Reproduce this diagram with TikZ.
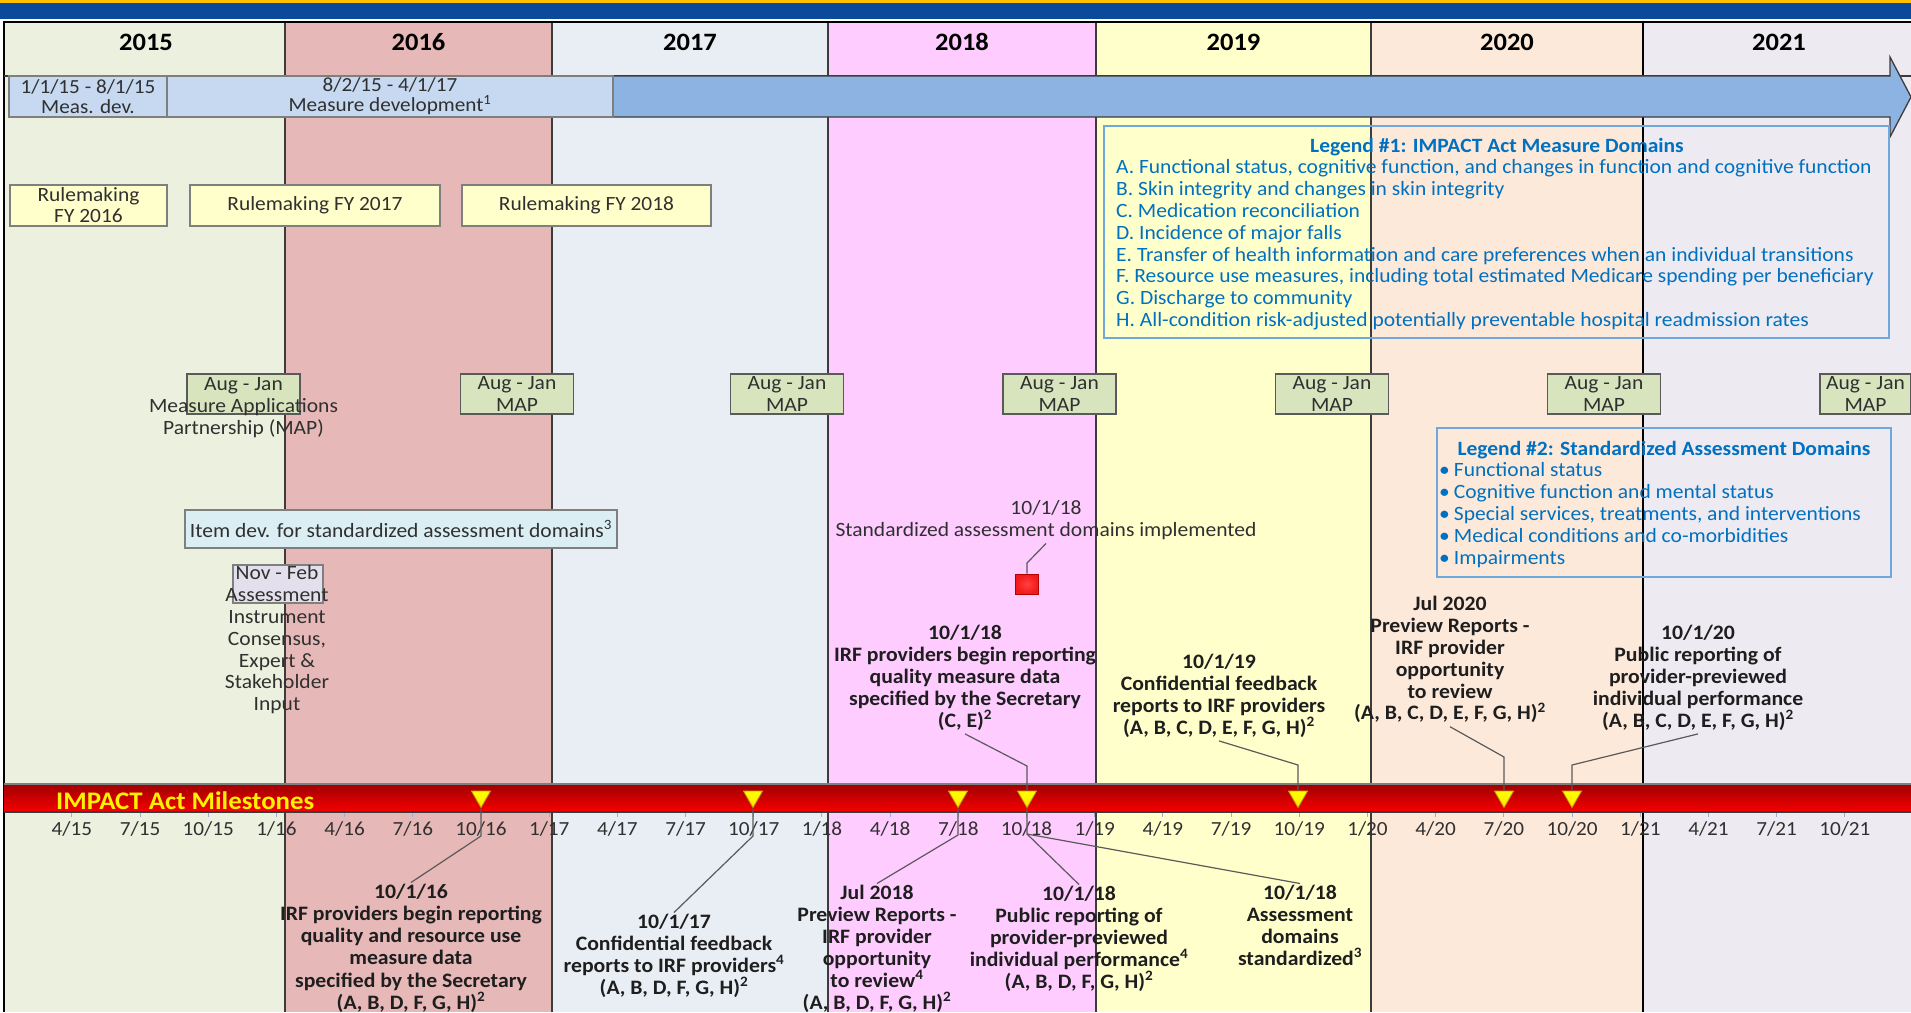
\documentclass[tikz,border=0pt]{standalone}
\usepackage{fontspec}
\setmainfont{Carlito}[FakeStretch=1.06]
\usetikzlibrary{shapes.geometric}

\definecolor{goldline}{HTML}{FFC000}
\definecolor{bandblue}{HTML}{0B4A9B}
\definecolor{yr15}{HTML}{EBF1DE}
\definecolor{yr16}{HTML}{E6B8B7}
\definecolor{yr17}{HTML}{E9EDF4}
\definecolor{yr18}{HTML}{FFCCFF}
\definecolor{yr19}{HTML}{FFFFCC}
\definecolor{yr20}{HTML}{FDE9D9}
\definecolor{yr21}{HTML}{EDEAF1}
\definecolor{gridgrey}{HTML}{3C3C3C}
\definecolor{boxgrey}{HTML}{7F7F7F}
\definecolor{mapgrey}{HTML}{5A5A5A}
\definecolor{mdfill}{HTML}{C6D9F1}
\definecolor{arrowfill}{HTML}{8DB3E2}
\definecolor{rulefill}{HTML}{FFFFCC}
\definecolor{mapfill}{HTML}{D7E4BD}
\definecolor{itemfill}{HTML}{DBEEF3}
\definecolor{nfbfill}{HTML}{E4DFEC}
\definecolor{legblue}{HTML}{0070C0}
\definecolor{legline}{HTML}{6FA8DC}
\definecolor{bartop}{HTML}{A00000}
\definecolor{barbot}{HTML}{F80000}
\definecolor{tickblue}{HTML}{95B3D7}
\definecolor{txtdark}{HTML}{1E1E1E}
\definecolor{txtgrey}{HTML}{303030}
\definecolor{conngrey}{HTML}{5A5A5A}
\definecolor{triyellow}{HTML}{FFFF00}
\definecolor{triedge}{HTML}{BFA600}
\definecolor{sqred}{HTML}{F21818}

\newcommand\ftyear{\fontsize{25}{28}\selectfont\bfseries}
\newcommand\ftleg{\fontsize{20.3}{21.8}\selectfont}
\newcommand\ftms{\fontsize{20.5}{22}\selectfont\bfseries}
\newcommand\fttick{\fontsize{20}{22}\selectfont}
\newcommand\ftmile{\fontsize{25.3}{28}\selectfont\bfseries}

\begin{document}
\begin{tikzpicture}[x=1pt,y=-1pt,
  yearlab/.style={font=\ftyear, text=black, inner sep=0pt, yshift=-1.5pt},
  box/.style={draw=boxgrey, line width=1.3pt, inner sep=0pt, align=center, text=txtgrey},
  mdbox/.style={box, fill=mdfill, font=\fontsize{20}{20}\selectfont},
  rulebox/.style={box, fill=rulefill, font=\fontsize{20.2}{21}\selectfont, minimum height=41pt},
  mapbox/.style={box, draw=mapgrey, fill=mapfill, font=\fontsize{20.3}{22}\selectfont, minimum width=113pt, minimum height=40pt},
  plaintext/.style={inner sep=0pt, align=center, text=txtgrey, font=\fontsize{20.3}{21.8}\selectfont, yshift=-1.5pt},
  msblock/.style={inner sep=0pt, align=center, text=txtdark, font=\ftms, yshift=-1.5pt},
  legbox/.style={draw=legline, line width=2pt, inner sep=0pt},
  legtitle/.style={inner sep=0pt, text=legblue, font=\ftleg\bfseries, yshift=-1.5pt},
  legitems/.style={inner sep=0pt, align=left, text=legblue, font=\ftleg, yshift=-1.5pt},
  tri/.style={regular polygon, regular polygon sides=3, shape border rotate=180,
              minimum size=22pt, inner sep=0pt, draw=triedge, line width=0.8pt,
              top color=triyellow, bottom color=triyellow!80!orange},
  conn/.style={draw=conngrey, line width=1.2pt},
  tick/.style={draw=tickblue, line width=1pt},
  ticklab/.style={inner sep=0pt, text=txtgrey, font=\fttick},
  gridline/.style={draw=gridgrey, line width=1.5pt}]

\useasboundingbox (0,0) rectangle (1911,1012);
\fill[white] (0,0) rectangle (1911,1012);

% title band
\fill[goldline] (0,0) rectangle (1911,3);
\fill[bandblue] (0,3) rectangle (1911,19);

% year columns
\fill[yr15] (4,22) rectangle (285,1012);
\fill[yr16] (285,22) rectangle (552,1012);
\fill[yr17] (552,22) rectangle (828,1012);
\fill[yr18] (828,22) rectangle (1096,1012);
\fill[yr19] (1096,22) rectangle (1371,1012);
\fill[yr20] (1371,22) rectangle (1643,1012);
\fill[yr21] (1643,22) rectangle (1911,1012);

\draw[gridline] (285,22) -- (285,1012);
\draw[gridline] (552,22) -- (552,1012);
\draw[gridline] (828,22) -- (828,1012);
\draw[gridline] (1096,22) -- (1096,1012);
\draw[gridline] (1371,22) -- (1371,1012);
\draw[black, line width=2.5pt] (1643,22) -- (1643,1012);
\draw[black, line width=1.5pt] (4,1012) -- (4,22) -- (1911,22);
\draw[gridline] (4,76) -- (1911,76);

% year headings
\node[yearlab] (y15) at (146,40.5) {2015};
\node[yearlab] (y16) at (418.5,40.5) {2016};
\node[yearlab] (y17) at (690,40.5) {2017};
\node[yearlab] (y18) at (962,40.5) {2018};
\node[yearlab] (y19) at (1233.5,40.5) {2019};
\node[yearlab] (y20) at (1507,40.5) {2020};
\node[yearlab] (y21) at (1779,40.5) {2021};

% measure development arrow and boxes
\draw[fill=arrowfill, draw=gridgrey, line width=1.3pt]
  (600,76) -- (1890,76) -- (1890,57) -- (1911,97) -- (1890,137) -- (1890,117) -- (600,117) -- cycle;
\node[mdbox, minimum width=158pt, minimum height=41pt] (md1) at (88,96.5) {1/1/15 - 8/1/15\\Meas. dev.};
\node[mdbox, minimum width=446pt, minimum height=41pt] (md2) at (390,96.5) {8/2/15 - 4/1/17\\Measure development\textsuperscript{1}};

% rulemaking
\node[rulebox, minimum width=157pt] (rm16) at (88.5,205.5) {Rulemaking\\FY 2016};
\node[rulebox, minimum width=250pt] (rm17) at (315,205.5) {Rulemaking FY 2017};
\node[rulebox, minimum width=249pt] (rm18) at (586.5,205.5) {Rulemaking FY 2018};

% legend 1
\node[legbox, minimum width=785pt, minimum height=212pt] (leg1) at (1496.5,232) {};
\node[legtitle] (leg1t) at (1497,145.5) {Legend \#1: IMPACT Act Measure Domains};
\node[legitems, anchor=north west] (leg1i) at (1116,157) {\strut A. Functional status, cognitive function, and changes in function and cognitive function\\
B. Skin integrity and changes in skin integrity\\
C. Medication reconciliation\\
D. Incidence of major falls\\
E. Transfer of health information and care preferences when an individual transitions\\
F. Resource use measures, including total estimated Medicare spending per beneficiary\\
G. Discharge to community\\
H. All-condition risk-adjusted potentially preventable hospital readmission rates};

% MAP boxes
\node[mapbox] (map16) at (243.5,394) {};
\node[plaintext, anchor=north] (map16t) at (243.5,373.5) {\strut Aug - Jan\\Measure Applications\\Partnership (MAP)};
\node[mapbox] (map17) at (517,394) {Aug - Jan\\MAP};
\node[mapbox] (map18) at (787,394) {Aug - Jan\\MAP};
\node[mapbox] (map19) at (1059.5,394) {Aug - Jan\\MAP};
\node[mapbox] (map20) at (1332,394) {Aug - Jan\\MAP};
\node[mapbox] (map21) at (1604,394) {Aug - Jan\\MAP};
\node[mapbox, minimum width=91pt] (map22) at (1865.5,394) {Aug - Jan\\MAP};

% legend 2
\node[legbox, minimum width=454pt, minimum height=149pt] (leg2) at (1664,502.5) {};
\node[legtitle] (leg2t) at (1664,448.5) {Legend \#2: Standardized Assessment Domains};
\node[legitems, anchor=north west] (leg2i) at (1439,460) {\strut\textbullet\hspace{4pt}Functional status\\
\textbullet\hspace{4pt}Cognitive function and mental status\\
\textbullet\hspace{4pt}Special services, treatments, and interventions\\
\textbullet\hspace{4pt}Medical conditions and co-morbidities\\
\textbullet\hspace{4pt}Impairments};

% standardized assessment items
\node[box, fill=itemfill, minimum width=432pt, minimum height=38pt, font=\fontsize{20.3}{22}\selectfont] (item) at (401,529) {Item dev. for standardized assessment domains\textsuperscript{3}};
\node[box, fill=nfbfill, minimum width=90pt, minimum height=38pt] (nfb) at (278,584) {};
\node[plaintext, anchor=north] (nfbt) at (277,563) {\strut Nov - Feb\\Assessment\\Instrument\\Consensus,\\Expert \&\\Stakeholder\\Input};

\node[plaintext, anchor=north] (stdimpl) at (1046,498) {\strut 10/1/18\\Standardized assessment domains implemented\strut};
\node[draw=red!70!black, line width=0.6pt, inner color=red!75!white, outer color=sqred, minimum width=23pt, minimum height=20pt, inner sep=0pt] (sq) at (1027,584) {};
\coordinate (estd) at (1027,563);
\draw[conn] (stdimpl.south) -- (estd) -- (sq);

% milestone texts above the bar
\node[msblock, anchor=north] (birf18) at (965,622) {\strut 10/1/18\\IRF providers begin reporting\\quality measure data\\specified by the Secretary\\(C, E)\textsuperscript{2}\strut};
\node[msblock, anchor=north] (bcf19) at (1219,651) {\strut 10/1/19\\Confidential feedback\\reports to IRF providers\\(A, B, C, D, E, F, G, H)\textsuperscript{2}\strut};
\node[msblock, anchor=north, font=\fontsize{20.5}{21.8}\selectfont\bfseries] (bjul20) at (1450,594) {\strut Jul 2020\\Preview Reports -\\IRF provider\\opportunity\\to review\\(A, B, C, D, E, F, G, H)\textsuperscript{2}\strut};
\node[msblock, anchor=north] (bpub20) at (1698,622) {\strut 10/1/20\\Public reporting of\\provider-previewed\\individual performance\\(A, B, C, D, E, F, G, H)\textsuperscript{2}\strut};

% milestone bar
\shade[top color=bartop, bottom color=barbot] (4,784) rectangle (1911,812);
\draw[draw=boxgrey, line width=1.2pt] (4,784) -- (1911,784);
\draw[draw=gridgrey, line width=1.2pt] (4,812) -- (1911,812);
\node[inner sep=0pt, anchor=west, text=yellow, font=\ftmile] (barlab) at (56,800.5) {IMPACT Act Milestones};

% quarter ticks
\foreach \q in {1,...,27}{
  \pgfmathtruncatemacro\mm{3*\q}
  \pgfmathtruncatemacro\mo{mod(\mm,12)+1}
  \pgfmathtruncatemacro\yy{15+floor(\mm/12)}
  \draw[tick] ({3.7+22.73*\mm},813) -- ++(0,4);
  \node[ticklab] (tk\q) at ({3.7+22.73*\mm},829) {\mo/\yy};
}

% milestone texts below the bar
\node[msblock, anchor=north, font=\fontsize{20.5}{22.2}\selectfont\bfseries] (b1016) at (411,881) {\strut 10/1/16\\IRF providers begin reporting\\quality and resource use\\measure data\\specified by the Secretary\\(A, B, D, F, G, H)\textsuperscript{2}\strut};
\node[msblock, anchor=north] (b1017) at (674,911) {\strut 10/1/17\\Confidential feedback\\reports to IRF providers\textsuperscript{4}\\(A, B, D, F, G, H)\textsuperscript{2}\strut};
\node[msblock, anchor=north] (bjul18) at (877,882) {\strut Jul 2018\\Preview Reports -\\IRF provider\\opportunity\\to review\textsuperscript{4}\\(A, B, D, F, G, H)\textsuperscript{2}\strut};
\node[msblock, anchor=north] (bpub18) at (1079,883) {\strut 10/1/18\\Public reporting of\\provider-previewed\\individual performance\textsuperscript{4}\\(A, B, D, F, G, H)\textsuperscript{2}\strut};
\node[msblock, anchor=north] (bass18) at (1300,882) {\strut 10/1/18\\Assessment\\domains\\standardized\textsuperscript{3}\strut};

% elbows of the connectors
\coordinate (l1016) at (481,836);
\coordinate (l1017) at (753,836);
\coordinate (l718) at (958,835);
\coordinate (l1018) at (1027,834);
\coordinate (u1018) at (1027,766);
\coordinate (u1019) at (1298,765);
\coordinate (u720) at (1504,757);
\coordinate (u1020) at (1572,765);

% milestone markers
\node[tri] (t1016) at (481,796.5) {};
\node[tri] (t1017) at (753,796.5) {};
\node[tri] (t718) at (958,796.5) {};
\node[tri] (t1018) at (1027,796.5) {};
\node[tri] (t1019) at (1298,796.5) {};
\node[tri] (t720) at (1504,796.5) {};
\node[tri] (t1020) at (1572,796.5) {};

% connectors
\draw[conn] (t1016) -- (l1016) -- (b1016.north);
\draw[conn] (t1017) -- (l1017) -- (b1017.north);
\draw[conn] (t718) -- (l718) -- (bjul18.north);
\draw[conn] (t1018) -- (l1018) -- (bpub18.north);
\draw[conn] (l1018) -- (bass18.north);
\draw[conn] (birf18.south) -- (u1018) -- (t1018);
\draw[conn] (bcf19.south) -- (u1019) -- (t1019);
\draw[conn] (bjul20.south) -- (u720) -- (t720);
\draw[conn] (bpub20.south) -- (u1020) -- (t1020);

\end{tikzpicture}
\end{document}
